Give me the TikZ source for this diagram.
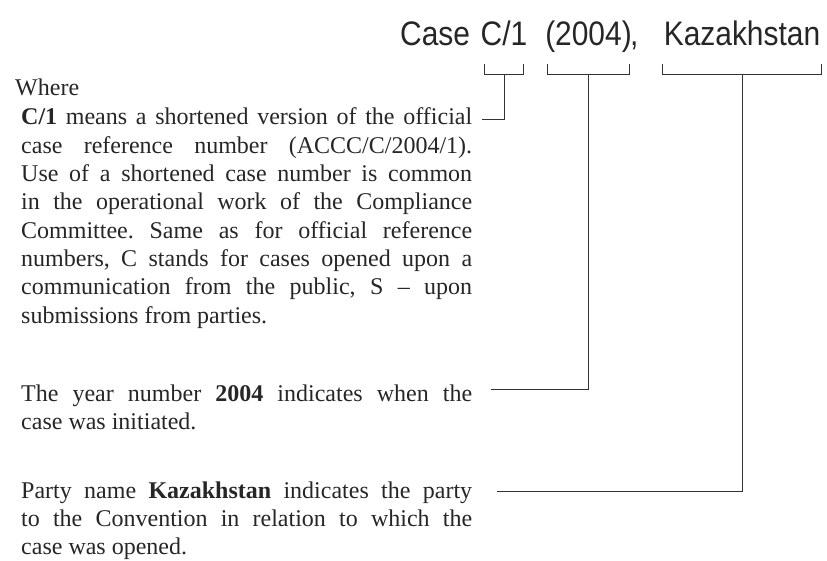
\documentclass[tikz,border=0pt]{standalone}
\usepackage{fontspec}
\usepackage{tikz}
\setmainfont{Liberation Serif}
\newfontfamily\titlefont[FakeStretch=0.88]{Liberation Sans}
\frenchspacing
\hbadness=10000

\tikzset{
  titletext/.style={font=\titlefont\fontsize{34}{34}\selectfont, inner sep=0pt, anchor=base, text=black!85},
  bodytext/.style={font=\fontsize{24}{28.3}\selectfont, inner sep=0pt, anchor=base west, text width=451pt, align=justify, text=black!85},
  leader/.style={line width=1pt, draw=black!80}
}

\begin{document}
\begin{tikzpicture}[x=1pt, y=1pt]
			\useasboundingbox (0,0) rectangle (827,-561);
			\node[titletext, anchor=base west] (tcase) at (400,-46) {Case};
			\node[titletext, inner xsep=-4pt] (tnum) at (504,-46) {C/1};
			\node[titletext, inner xsep=-2pt] (tyear) at (588.5,-46) {(2004)};
			\node[titletext, anchor=base west] (tcomma) at (tyear.base east) {,};
			\node[titletext, inner xsep=1.5pt] (tparty) at (742,-46) {Kazakhstan};
			\node[font=\fontsize{24}{28.3}\selectfont, inner sep=0pt, anchor=base west, text=black!85] (where) at (15,-96) {Where};
			\node[bodytext] (pnum) at (21,-125) {\textbf{C/1} means a shortened version of the official\linebreak
				case reference number (ACCC/C/2004/1).\linebreak
				Use of a shortened case number is common\linebreak
				in the operational work of the Compliance\linebreak
				Committee. Same as for official reference\linebreak
				numbers, C stands for cases opened upon a\linebreak
				communication from the public, S -- upon\linebreak
				submissions from parties.};
			\node[bodytext] (pyear) at (21,-401) {The year number \textbf{2004} indicates when the\linebreak
				case was initiated.};
			\node[bodytext] (pparty) at (21,-498) {Party name \textbf{Kazakhstan} indicates the party\linebreak
				to the Convention in relation to which the\linebreak
				case was opened.};
			\coordinate (enum) at (482,-120);
			\coordinate (eyear) at (491,-389);
			\coordinate (eparty) at (497,-491);
			\foreach \w/\e in {tnum/enum, tyear/eyear, tparty/eparty}
			{
				\draw[leader] (\w.west |- 0,-64) -- (\w.west |- 0,-75) -- (\w.east |- 0,-75) -- (\w.east |- 0,-64);
				\draw[leader] (\w.base |- 0,-75) |- (\e);
			}
		\end{tikzpicture}
\end{document}
